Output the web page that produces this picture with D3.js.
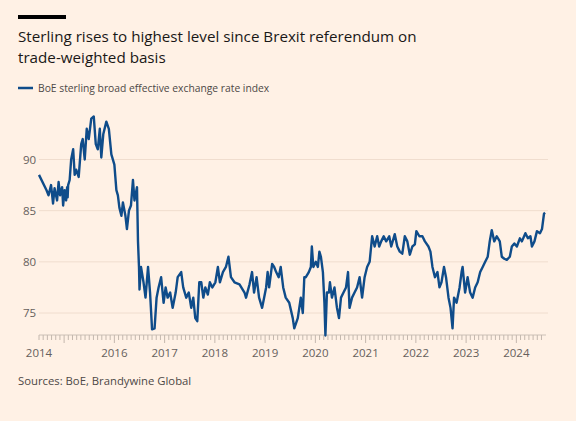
<!DOCTYPE html>
<html><head><meta charset="utf-8">
<script src="https://cdn.jsdelivr.net/npm/d3@7"></script>
<style>body{margin:0;background:#fff1e5;font-family:"Open Sans",sans-serif}</style>
</head><body><svg id="c" width="576" height="421"></svg>
<script>
// [decimal year, index value]
const series = [
[2014.50,88.5],[2014.65,87],[2014.69,86.5],[2014.74,87.5],[2014.78,85.7],[2014.81,87.2],[2014.86,86],[2014.89,87.8],[2014.92,86.5],[2014.96,87.3],
[2014.98,85.5],[2015.01,87],[2015.04,86],[2015.06,87.3],[2015.07,86.3],[2015.08,87.5],[2015.11,88],[2015.14,90],[2015.18,91],[2015.21,88.5],
[2015.24,89],[2015.29,88.3],[2015.34,91.5],[2015.37,92],[2015.41,90],[2015.45,93],[2015.49,92],[2015.54,94],[2015.59,94.2],[2015.63,91.5],
[2015.67,91],[2015.71,93],[2015.74,90.2],[2015.78,92.5],[2015.84,93.7],[2015.89,93],[2015.94,90.5],[2016.00,89.5],[2016.04,87],[2016.07,86.5],
[2016.10,85.3],[2016.14,84.5],[2016.17,85.8],[2016.22,84.5],[2016.25,83.2],[2016.29,85],[2016.33,85.5],[2016.37,88],[2016.40,86],[2016.45,87.3],
[2016.47,82],[2016.49,79.5],[2016.50,77.3],[2016.53,79.5],[2016.58,78],[2016.62,76.5],[2016.67,79.5],[2016.71,77],[2016.75,73.4],[2016.80,73.5],
[2016.84,76.5],[2016.88,77.5],[2016.93,78.5],[2016.98,76],[2017.02,77.5],[2017.06,76.5],[2017.11,77],[2017.16,75.5],[2017.22,77],[2017.26,78.5],
[2017.33,79],[2017.37,77.5],[2017.43,76.5],[2017.48,77],[2017.53,75.5],[2017.57,76.5],[2017.61,74.5],[2017.65,74.2],[2017.69,78],[2017.73,78],
[2017.77,76.5],[2017.81,77.5],[2017.86,76.8],[2017.90,78],[2017.95,77.5],[2018.01,78],[2018.06,79.5],[2018.10,78],[2018.16,79],[2018.22,79.5],
[2018.27,80.5],[2018.32,78.5],[2018.39,78],[2018.49,77.8],[2018.59,77],[2018.62,76.5],[2018.69,77.8],[2018.74,79],[2018.78,77],[2018.83,78.5],
[2018.88,76.5],[2018.94,75.5],[2018.98,76.5],[2019.02,77.5],[2019.05,79],[2019.08,77.5],[2019.14,79.8],[2019.18,79.5],[2019.22,79],[2019.27,78.5],
[2019.31,79.5],[2019.36,77.5],[2019.41,76.5],[2019.48,76],[2019.55,74.5],[2019.58,73.5],[2019.65,74.5],[2019.71,76.5],[2019.75,75],[2019.78,78.5],
[2019.81,78.5],[2019.87,79],[2019.91,79.5],[2019.93,81.5],[2019.96,79.5],[2020.01,80],[2020.05,79.5],[2020.08,81],[2020.11,80.5],[2020.15,79],
[2020.18,76],[2020.20,72.8],[2020.23,77],[2020.27,77],[2020.29,78],[2020.33,76.5],[2020.38,77.5],[2020.43,75.5],[2020.47,74.5],[2020.51,76.5],
[2020.56,77],[2020.61,77.5],[2020.65,79],[2020.68,75.5],[2020.73,76.5],[2020.78,77],[2020.83,77.5],[2020.88,78.5],[2020.93,76.5],[2020.98,78.5],
[2021.03,79.5],[2021.08,80],[2021.13,82.5],[2021.18,81.5],[2021.23,82.5],[2021.27,81.5],[2021.31,82],[2021.36,82.5],[2021.41,82],[2021.47,82.5],
[2021.51,81.5],[2021.58,82.7],[2021.63,81.5],[2021.68,81],[2021.73,80.8],[2021.78,82.5],[2021.83,82],[2021.88,80.7],[2021.93,81.5],[2021.98,81.7],
[2022.01,83],[2022.07,82.5],[2022.13,82.5],[2022.18,82],[2022.25,81.5],[2022.29,81],[2022.33,79.5],[2022.38,78.5],[2022.43,79],[2022.47,77.5],
[2022.51,78],[2022.56,79.5],[2022.60,78.5],[2022.65,76.5],[2022.69,75.5],[2022.73,73.5],[2022.76,76.5],[2022.81,76],[2022.87,77.5],[2022.91,79],
[2022.93,79.5],[2022.98,77],[2023.03,78.5],[2023.08,77],[2023.13,76.5],[2023.18,77.5],[2023.23,78],[2023.28,79],[2023.33,79.5],[2023.38,80],
[2023.43,80.5],[2023.47,82],[2023.51,83.1],[2023.56,82],[2023.61,82.5],[2023.67,82],[2023.71,80.5],[2023.76,80.3],[2023.81,80.2],[2023.87,80.5],
[2023.91,81.5],[2023.96,81.8],[2024.01,81.5],[2024.07,82.3],[2024.11,82],[2024.18,82.8],[2024.23,82.3],[2024.28,82.5],[2024.31,81.5],[2024.36,82],
[2024.41,83],[2024.47,82.8],[2024.51,83.2],[2024.55,84.7],[2024.57,84.8]];
const yTicks = [75,80,85,90];
const xLabels = [2014.5,2016,2017,2018,2019,2020,2021,2022,2023,2024];
const xLabelText = ["2014","2016","2017","2018","2019","2020","2021","2022","2023","2024"];

const svg = d3.select("#c");
const x = d3.scaleLinear().domain([2014.5,2024.57]).range([39,545]);
const y = d3.scaleLinear().domain([75,90]).range([313,159.5]);
const baseY = 335;

svg.append("rect").attr("x",18).attr("y",15).attr("width",48).attr("height",4).attr("fill","#000");
svg.append("text").attr("x",18).attr("y",42).attr("font-size",15.2).attr("fill","#1a1817").text("Sterling rises to highest level since Brexit referendum on");
svg.append("text").attr("x",18).attr("y",63).attr("font-size",15.2).attr("fill","#1a1817").text("trade-weighted basis");
svg.append("line").attr("x1",18).attr("x2",33).attr("y1",88).attr("y2",88).attr("stroke","#0f4c8a").attr("stroke-width",2.5);
svg.append("text").attr("x",38).attr("y",92).attr("font-size",10.3).attr("fill","#4d4845").text("BoE sterling broad effective exchange rate index");

svg.selectAll(".g").data(yTicks).join("line").attr("x1",39).attr("x2",548)
  .attr("y1",d=>y(d)).attr("y2",d=>y(d)).attr("stroke","#f0ddce").attr("stroke-width",1);
svg.selectAll(".yl").data(yTicks).join("text").attr("x",23).attr("y",d=>y(d)+4)
  .attr("font-size",11.5).attr("fill","#66605c").text(d=>d);

svg.append("line").attr("x1",39).attr("x2",546).attr("y1",baseY).attr("y2",baseY).attr("stroke","#ccc1b7");
const months = d3.range(0,122).map(i=>2014.5+i/12).filter(v=>v<=2024.58);
svg.selectAll(".mt").data(months).join("line").attr("x1",d=>x(d)).attr("x2",d=>x(d))
  .attr("y1",baseY).attr("y2",d=>Math.abs(d-Math.round(d))<0.01?baseY+8:baseY+5).attr("stroke","#c4b8ae");
svg.selectAll(".xl").data(xLabels).join("text").attr("x",d=>x(d)).attr("y",357)
  .attr("text-anchor","middle").attr("font-size",11.5).attr("fill","#66605c")
  .text((d,i)=>xLabelText[i]);

svg.append("path").datum(series).attr("fill","none").attr("stroke","#0f4c8a").attr("stroke-width",2.4)
  .attr("stroke-linejoin","round").attr("d",d3.line().x(d=>x(d[0])).y(d=>y(d[1])));

svg.append("text").attr("x",18).attr("y",385).attr("font-size",11.3).attr("fill","#4d4845").text("Sources: BoE, Brandywine Global");
</script></body></html>
